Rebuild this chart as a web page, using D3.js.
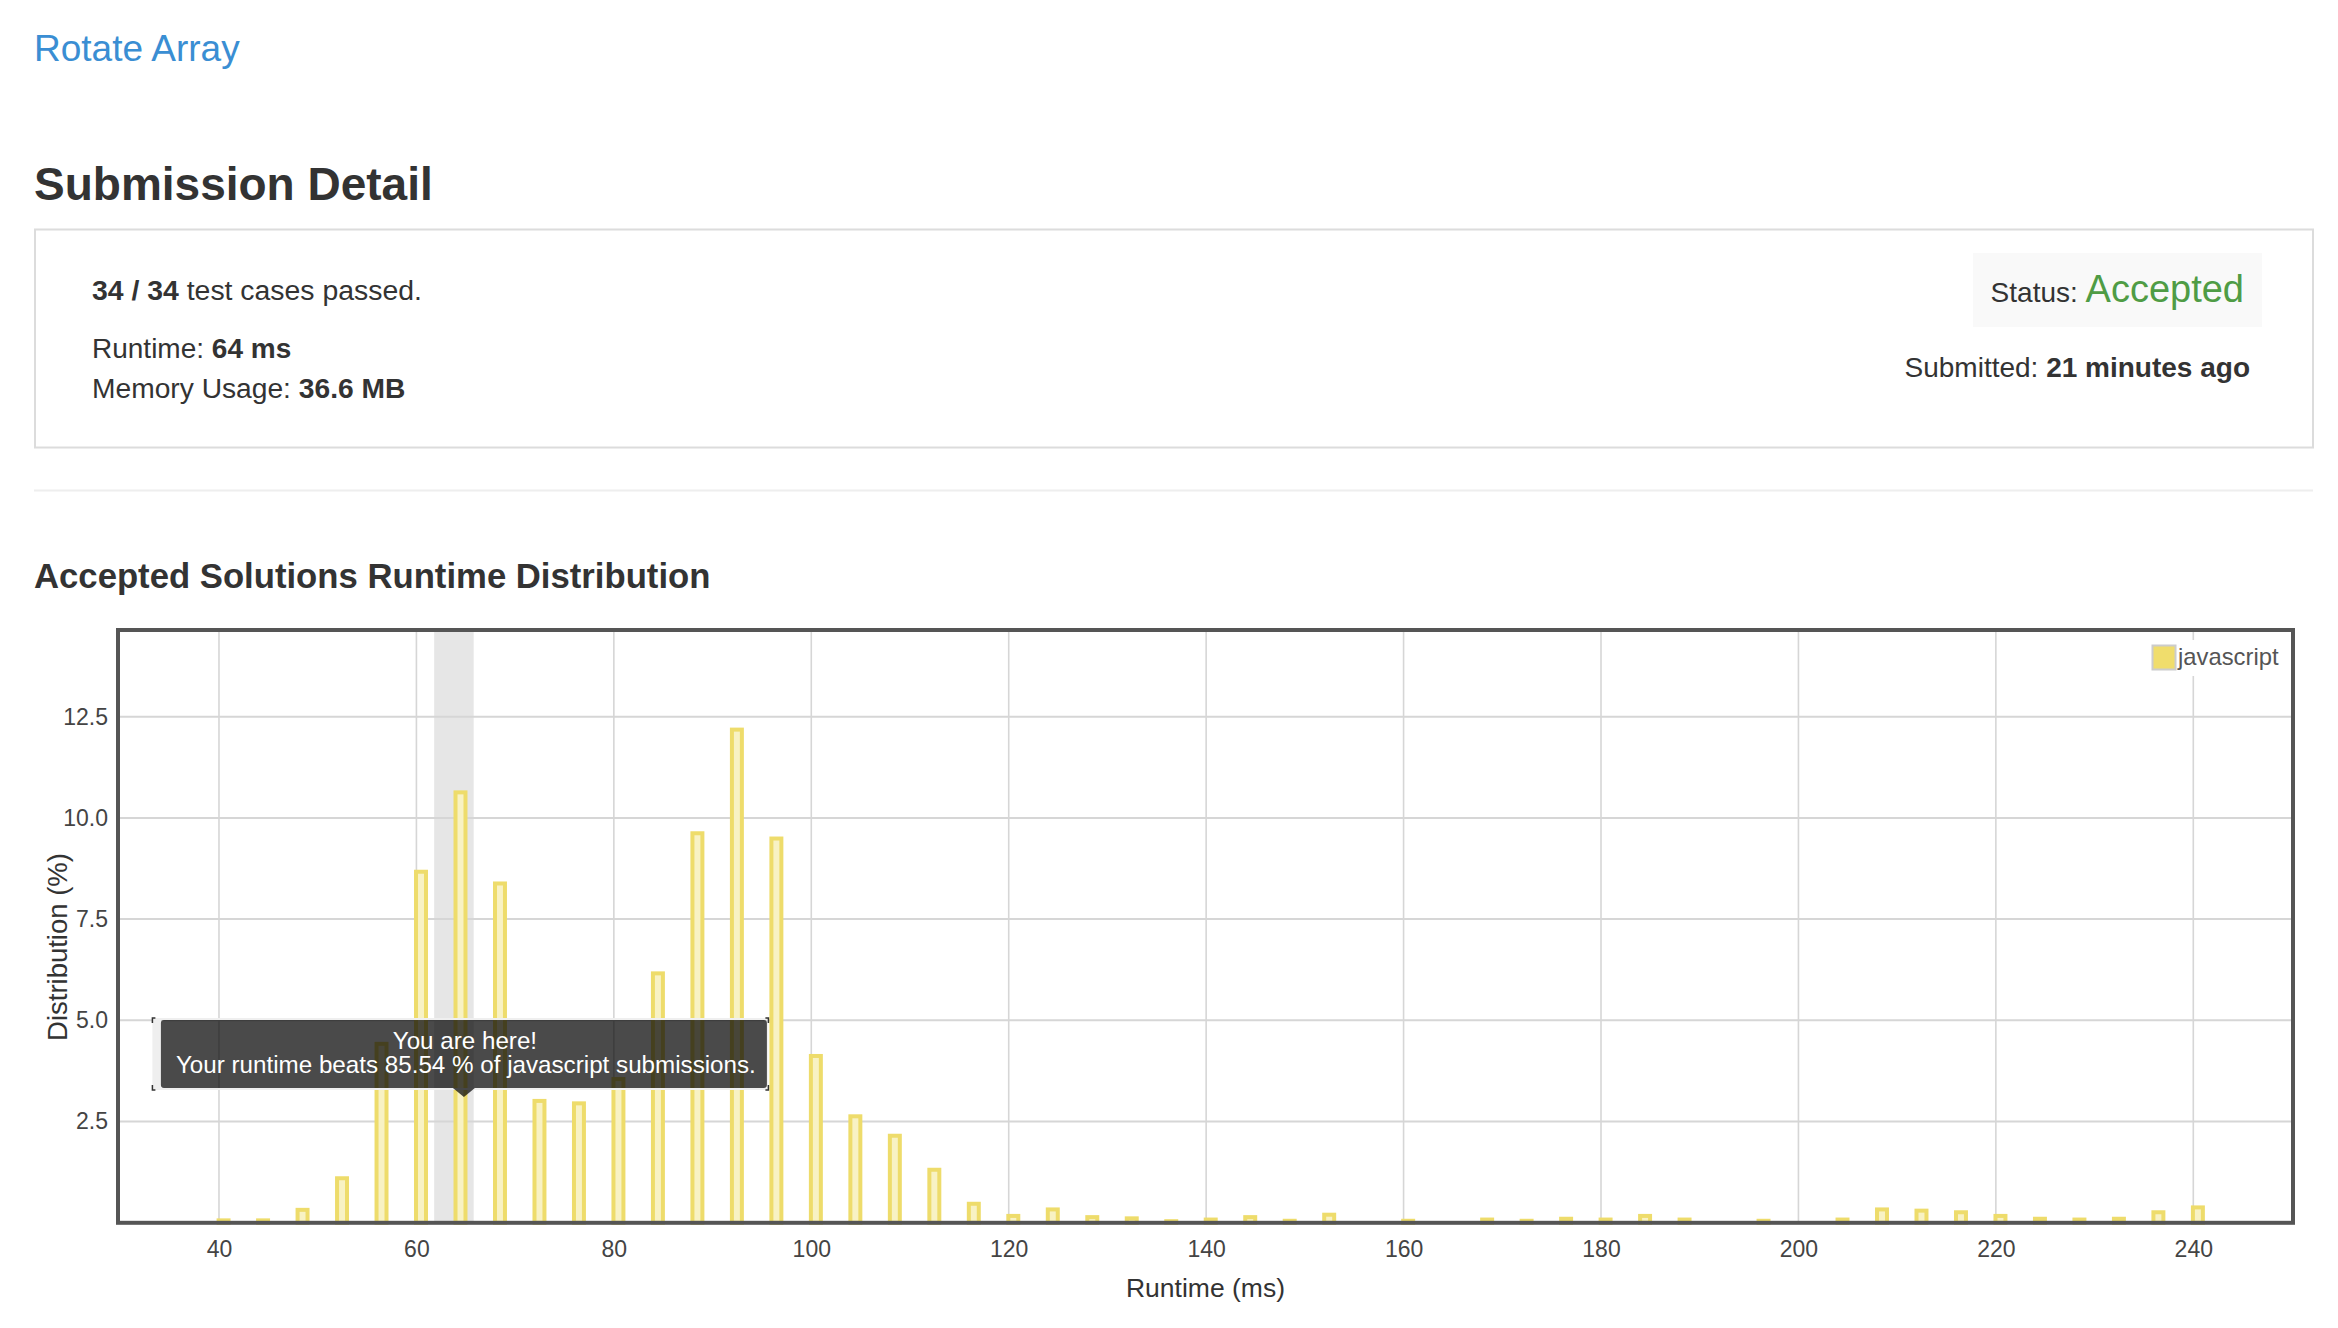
<!DOCTYPE html>
<html><head><meta charset="utf-8">
<script src="https://cdnjs.cloudflare.com/ajax/libs/d3/7.8.5/d3.min.js"></script>
<style>
html,body{margin:0;padding:0;background:#fff;}
svg{display:block;font-family:"Liberation Sans",Arial,Helvetica,sans-serif;}
</style></head><body>
<svg id="page" width="2338" height="1328"></svg>
<script>
// ---- data ----
const runtimes = [40,44,48,52,56,60,64,68,72,76,80,84,88,92,96,100,104,108,112,116,120,124,128,132,136,140,144,148,152,
                  160,168,172,176,180,184,188,196,
                  204,208,212,216,220,224,228,232,236,240];
const distribution = [0.06,0.06,0.32,1.10,4.42,8.67,10.63,8.38,3.01,2.95,3.55,6.16,9.62,12.18,9.49,4.12,2.63,2.15,1.31,0.47,0.17,0.33,0.14,0.11,0.04,0.08,0.14,0.05,0.20,
                  0.05,0.08,0.05,0.10,0.08,0.17,0.08,0.05,
                  0.08,0.33,0.30,0.26,0.17,0.10,0.08,0.10,0.26,0.38];
const xTickValues = [40,60,80,100,120,140,160,180,200,220,240];
const yTickValues = [2.5,5,7.5,10,12.5];
const seriesName = "javascript";
const myRuntime = 64;
const beatsPercent = "85.54";

const problemTitle = "Rotate Array";
const casesPassed = "34 / 34";
const runtimeText = "64 ms";
const memoryText = "36.6 MB";
const submittedText = "21 minutes ago";

// ---- page ----
const svg = d3.select("#page");
const FONT = '"Liberation Sans",Arial,Helvetica,sans-serif';

svg.append("text").attr("x",34).attr("y",61).attr("font-size",37).attr("fill","#3a8ed3").text(problemTitle);
svg.append("text").attr("x",34).attr("y",200).attr("font-size",46).attr("font-weight","bold").attr("fill","#333").text("Submission Detail");

svg.append("rect").attr("x",35).attr("y",229.5).attr("width",2278).attr("height",218)
   .attr("fill","none").attr("stroke","#dcdcdc").attr("stroke-width",2);

function richText(x, y, parts, anchor, size){
  const t = svg.append("text").attr("x",x).attr("y",y).attr("font-size",size||28).attr("fill","#333")
     .attr("text-anchor",anchor||"start");
  parts.forEach(p=>{
    const s = t.append("tspan").text(p.t);
    if(p.b) s.attr("font-weight","bold");
    if(p.c) s.attr("fill",p.c);
    if(p.s) s.attr("font-size",p.s);
  });
  return t;
}
richText(92,300,[{t:casesPassed,b:1},{t:" test cases passed."}],"start",28.4);
richText(92,358,[{t:"Runtime: "},{t:runtimeText,b:1}]);
richText(92,398,[{t:"Memory Usage: "},{t:memoryText,b:1}],"start",28.2);

svg.append("rect").attr("x",1973).attr("y",253).attr("width",289).attr("height",74).attr("fill","#f9f9f9");
richText(2244,302,[{t:"Status: "},{t:"Accepted",c:"#4f9c45",s:38}],"end");
richText(2250,377,[{t:"Submitted: "},{t:submittedText,b:1}],"end");

svg.append("line").attr("x1",34).attr("x2",2313).attr("y1",490.5).attr("y2",490.5)
   .attr("stroke","#eeeeee").attr("stroke-width",2);

svg.append("text").attr("x",34).attr("y",588).attr("font-size",34.7).attr("font-weight","bold")
   .attr("fill","#333").text("Accepted Solutions Runtime Distribution");

// ---- chart ----
const L = 118, R = 2293, T = 630, B = 1222.8;
const x = d3.scaleLinear().domain([29.77, 250.1]).range([L, R]);
const y = d3.scaleLinear().domain([0, 14.64]).range([B, T]);
const g = svg.append("g");

// highlight band for my runtime
g.append("rect").attr("x",x(myRuntime-2.2)).attr("y",T).attr("width",x(myRuntime+1.8)-x(myRuntime-2.2))
  .attr("height",B-T).attr("fill","#e6e6e6");

// grid
g.append("g").selectAll("line").data(yTickValues).join("line")
  .attr("x1",L).attr("x2",R).attr("y1",d=>y(d)).attr("y2",d=>y(d))
  .attr("stroke","#d6d6d6").attr("stroke-width",2);
g.append("g").selectAll("line").data(xTickValues).join("line")
  .attr("x1",d=>x(d)).attr("x2",d=>x(d)).attr("y1",T).attr("y2",B)
  .attr("stroke","#d6d6d6").attr("stroke-width",1.6);

// bars
const data = runtimes.map((r,i)=>({r, v:distribution[i]}));
g.append("g").selectAll("rect").data(data).join("rect")
  .attr("x",d=>x(d.r-0.04)).attr("width",d=>x(d.r+0.97)-x(d.r-0.04))
  .attr("y",d=>y(d.v)).attr("height",d=>B-y(d.v))
  .attr("fill","#f8f2c4").attr("stroke","#eedc6b").attr("stroke-width",4);

// axes
const xAxis = g.append("g").attr("transform",`translate(0,${B})`)
  .call(d3.axisBottom(x).tickValues(xTickValues).tickSize(0).tickPadding(18).tickFormat(d3.format("d")));
const yAxis = g.append("g").attr("transform",`translate(${L},0)`)
  .call(d3.axisLeft(y).tickValues(yTickValues).tickSize(0).tickPadding(10).tickFormat(d3.format(".1f")));
[xAxis,yAxis].forEach(a=>{
  a.select(".domain").remove();
  a.selectAll("text").attr("font-size",23).attr("fill","#444").attr("font-family",FONT);
});

// frame
g.append("rect").attr("x",L).attr("y",T).attr("width",R-L).attr("height",B-T)
  .attr("fill","none").attr("stroke","#555").attr("stroke-width",4);

// axis titles
g.append("text").attr("x",(L+R)/2).attr("y",1297).attr("text-anchor","middle")
  .attr("font-size",26.5).attr("fill","#333").text("Runtime (ms)");
g.append("text").attr("transform","translate(67,947) rotate(-90)").attr("text-anchor","middle")
  .attr("font-size",27.5).attr("fill","#333").text("Distribution (%)");

// legend
const lg = g.append("g");
lg.append("rect").attr("x",2148).attr("y",640).attr("width",136).attr("height",36).attr("fill","#fff");
lg.append("rect").attr("x",2152.5).attr("y",645.5).attr("width",23).attr("height",24)
  .attr("fill","#f0dd6c").attr("stroke","#cccccc").attr("stroke-width",2);
lg.append("text").attr("x",2178).attr("y",665).attr("font-size",23.8).attr("fill","#555").text(seriesName);

// tooltip
const ax = x(myRuntime) + 8;
const tip = g.append("g");
const bx0 = ax-303, bx1 = ax+303, by0 = 1020, by1 = 1088;
const ox0 = bx0-8.5, oy0 = by0-2, ox1 = bx1+1.5, oy1 = by1+2;
tip.append("path")
  .attr("d",`M${ox0},${oy0}H${ox1}V${oy1}H${ox0}Z M${bx0},${by0}V${by1}H${bx1}V${by0}Z`)
  .attr("fill","#efefef").attr("fill-rule","evenodd");
// corner marks
tip.append("path")
  .attr("d",`M${ox0},${oy0+5}V${oy0}H${ox0+3} M${ox0},${oy1-5}V${oy1}H${ox0+3} M${ox1},${oy0+5}V${oy0}H${ox1-3} M${ox1},${oy1-5}V${oy1}H${ox1-3}`)
  .attr("fill","none").attr("stroke","#333").attr("stroke-width",1.5);
tip.append("path")
  .attr("d",`M${bx0+3},${by0}H${bx1-3}Q${bx1},${by0} ${bx1},${by0+3}V${by1-3}Q${bx1},${by1} ${bx1-3},${by1}H${ax+11}L${ax},${by1+9}L${ax-11},${by1}H${bx0+3}Q${bx0},${by1} ${bx0},${by1-3}V${by0+3}Q${bx0},${by0} ${bx0+3},${by0}Z`)
  .attr("fill","rgba(0,0,0,0.71)");
tip.append("text").attr("x",ax+1).attr("y",1049).attr("text-anchor","middle")
  .attr("font-size",24.2).attr("fill","#fff").text("You are here!");
tip.append("text").attr("x",ax+2).attr("y",1073).attr("text-anchor","middle")
  .attr("font-size",24.2).attr("fill","#fff")
  .text(`Your runtime beats ${beatsPercent} % of ${seriesName} submissions.`);
</script>
</body></html>
